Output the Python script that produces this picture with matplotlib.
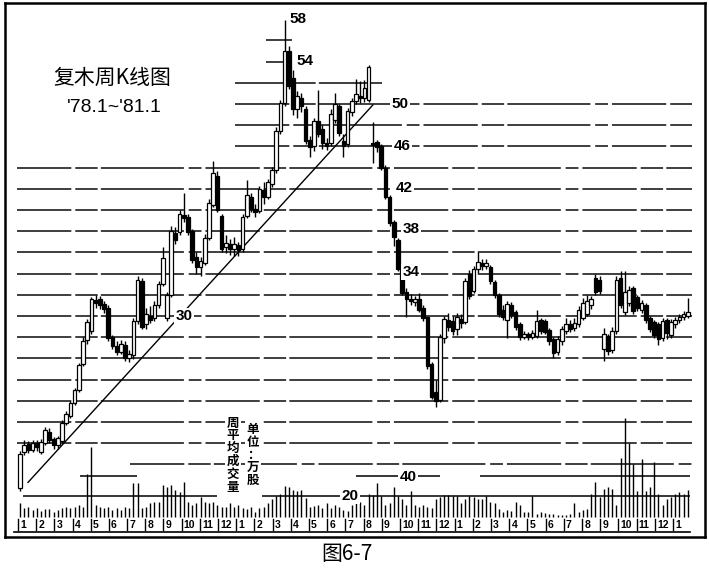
"""Weekly K-line chart of 复木 (1978.1 - 1981.1) with weekly volume strip."""

import matplotlib
matplotlib.use("Agg")
import matplotlib.pyplot as plt

CJK = ["Noto Sans CJK SC", "DejaVu Sans"]
LATIN = ["Liberation Sans", "DejaVu Sans"]

# ---- weekly prices, one value per week from 1978 week 1 ----
OPEN = [
    13.8, 17.2, 17.9, 17.4, 18.0, 17.2, 18.0, 19.1, 18.4, 17.8,
    18.2, 19.9, 20.6, 21.8, 23.0, 25.5, 27.7, 28.6, 31.5, 31.6,
    31.1, 30.8, 28.0, 27.2, 26.6, 27.3, 26.0, 26.3, 29.5, 33.3,
    29.2, 30.0, 29.8, 31.0, 33.0, 29.8, 32.0, 37.8, 37.9, 39.5,
    39.3, 38.0, 35.6, 34.6, 35.0, 37.4, 40.5, 43.2, 39.4, 36.5,
    36.8, 36.3, 36.7, 36.3, 39.4, 41.2, 40.1, 39.9, 41.9, 41.2,
    42.5, 43.8, 47.5, 50.1, 55.0, 52.5, 49.5, 50.6, 49.5, 46.6,
    46.0, 48.4, 47.6, 46.3, 46.3, 48.5, 49.8, 46.5, 46.2, 49.2,
    50.3, 50.8, 50.6, 50.4, 46.3, 46.4, 46.0, 44.0, 41.2, 38.9,
    37.2, 34.4, 32.3, 31.6, 31.3, 31.6, 30.8, 29.9, 25.5, 22.8,
    22.1, 27.9, 29.6, 29.5, 28.8, 29.7, 29.4, 34.0, 32.4, 34.4,
    35.0, 34.7, 34.6, 33.2, 32.0, 30.6, 29.6, 31.0, 30.4, 29.2,
    28.0, 28.3, 28.0, 28.1, 29.6, 29.5, 28.7, 27.8, 26.6, 27.6,
    28.6, 29.2, 28.9, 29.2, 29.8, 30.2, 31.0, 33.6, 33.4, 26.9,
    28.1, 26.8, 28.6, 33.6, 30.4, 31.2, 32.6, 31.8, 30.6, 31.0,
    29.8, 29.4, 29.2, 27.9, 29.6, 28.2, 29.2, 29.6, 29.9, 30.0,
]
HIGH = [
    17.3, 18.3, 18.2, 18.3, 18.3, 18.4, 19.5, 19.4, 18.6, 18.7,
    20.2, 21.0, 22.0, 23.2, 25.6, 28.0, 29.7, 31.8, 32.0, 31.9,
    31.4, 31.0, 28.2, 27.6, 27.7, 27.6, 26.8, 29.8, 33.8, 33.6,
    30.8, 30.9, 31.4, 33.3, 36.5, 32.3, 38.5, 38.4, 40.0, 41.6,
    39.6, 38.2, 36.0, 35.6, 37.7, 41.0, 44.6, 43.7, 39.6, 37.6,
    37.3, 37.5, 37.0, 39.6, 42.8, 41.6, 40.6, 42.3, 42.6, 42.9,
    44.1, 47.8, 50.4, 57.9, 55.5, 53.2, 51.2, 51.0, 49.8, 47.0,
    48.7, 51.3, 48.0, 46.8, 49.5, 51.0, 50.0, 47.2, 49.6, 50.6,
    52.4, 52.2, 52.3, 53.7, 48.3, 46.6, 46.2, 44.2, 41.4, 39.1,
    37.4, 34.6, 32.6, 32.1, 31.9, 32.2, 31.0, 30.0, 25.7, 24.0,
    28.3, 30.0, 30.3, 30.0, 30.3, 30.2, 33.6, 34.3, 34.7, 36.0,
    35.4, 35.4, 34.8, 33.4, 32.2, 31.0, 31.4, 31.3, 30.6, 29.4,
    28.6, 28.5, 28.7, 30.6, 29.8, 29.7, 28.9, 28.0, 28.1, 29.1,
    29.8, 29.6, 29.8, 30.9, 31.7, 32.0, 31.9, 34.0, 33.8, 28.9,
    28.3, 29.0, 33.8, 34.2, 34.2, 32.8, 32.8, 32.0, 31.5, 31.2,
    30.0, 29.6, 29.4, 29.8, 29.8, 29.7, 29.9, 30.2, 30.5, 31.7,
]
LOW = [
    13.5, 16.9, 17.1, 17.2, 17.3, 17.0, 17.8, 18.0, 17.5, 17.5,
    18.0, 19.7, 20.4, 21.6, 22.8, 25.3, 27.4, 28.3, 30.8, 30.7,
    30.3, 27.6, 26.9, 26.3, 26.4, 25.8, 25.7, 25.9, 29.2, 28.8,
    28.8, 29.3, 29.5, 30.8, 32.8, 29.5, 31.8, 36.8, 37.6, 38.9,
    37.6, 35.0, 34.0, 33.8, 34.8, 37.2, 40.3, 39.8, 36.0, 35.9,
    35.8, 35.7, 35.7, 36.0, 39.2, 39.8, 39.3, 39.7, 40.6, 41.0,
    42.2, 43.5, 47.2, 49.8, 51.4, 49.0, 48.7, 49.2, 46.2, 45.0,
    45.6, 46.9, 45.8, 45.7, 46.0, 48.2, 47.0, 45.0, 45.9, 48.9,
    50.0, 50.1, 50.2, 50.2, 44.4, 45.5, 43.8, 41.0, 38.5, 36.6,
    34.2, 32.0, 29.9, 31.0, 30.9, 30.4, 29.5, 25.0, 22.2, 21.4,
    21.9, 27.5, 28.6, 28.2, 28.2, 28.9, 29.2, 31.6, 32.2, 34.1,
    34.3, 34.4, 33.0, 31.7, 29.9, 29.6, 27.9, 29.8, 28.7, 27.7,
    27.8, 27.7, 27.8, 27.9, 28.3, 28.3, 27.3, 26.0, 26.3, 27.3,
    28.3, 28.5, 28.6, 29.0, 29.6, 30.0, 30.7, 32.0, 32.1, 25.8,
    26.3, 26.5, 28.3, 30.8, 30.1, 30.9, 30.2, 30.5, 30.3, 29.3,
    28.5, 27.9, 27.3, 27.6, 27.8, 27.9, 28.9, 29.3, 29.6, 29.8,
]
CLOSE = [
    17.0, 17.8, 17.4, 18.0, 17.6, 18.1, 19.2, 18.3, 17.8, 18.5,
    19.9, 20.8, 21.8, 23.0, 25.4, 27.6, 29.4, 31.6, 31.2, 31.0,
    30.7, 27.9, 27.2, 26.6, 27.4, 26.0, 26.4, 29.5, 33.4, 29.0,
    30.2, 29.6, 31.0, 33.0, 35.5, 32.0, 38.0, 37.2, 39.6, 39.2,
    37.9, 35.3, 34.6, 35.2, 37.4, 40.7, 43.5, 40.0, 36.3, 36.9,
    36.3, 36.8, 36.2, 39.3, 41.4, 40.1, 39.8, 42.0, 41.2, 42.6,
    43.8, 47.5, 50.1, 55.0, 51.7, 49.5, 50.8, 49.8, 46.5, 45.9,
    48.4, 47.2, 46.3, 46.0, 49.1, 50.0, 47.3, 46.0, 49.3, 50.3,
    50.9, 50.6, 51.5, 53.5, 46.1, 45.9, 44.0, 41.2, 38.8, 37.5,
    34.4, 32.2, 31.6, 31.4, 31.6, 30.6, 29.8, 25.3, 22.4, 22.0,
    28.0, 29.7, 29.0, 28.6, 29.9, 29.3, 33.3, 31.9, 34.4, 35.1,
    34.7, 35.0, 33.3, 32.0, 30.2, 29.9, 31.1, 30.1, 29.0, 28.0,
    28.3, 28.0, 28.4, 29.5, 28.6, 28.5, 27.6, 26.5, 27.8, 28.8,
    29.2, 28.8, 29.3, 30.6, 31.2, 31.4, 31.6, 32.3, 32.4, 28.3,
    26.7, 28.6, 33.4, 31.0, 32.3, 32.5, 30.5, 30.8, 31.2, 29.6,
    28.8, 28.2, 27.8, 29.5, 28.4, 29.4, 29.6, 29.9, 30.2, 30.4,
]
# weekly average volume, 万股
VOLUME = [
    14, 9, 10, 7, 9, 6, 8, 8, 5, 7,
    9, 10, 9, 10, 12, 10, 42, 68, 12, 10,
    9, 10, 7, 9, 7, 10, 9, 33, 33, 9,
    10, 14, 15, 15, 31, 29, 31, 26, 24, 34,
    15, 12, 14, 19, 15, 14, 15, 12, 10, 10,
    14, 10, 12, 9, 8, 10, 5, 9, 10, 14,
    17, 20, 22, 30, 29, 26, 25, 26, 18, 10,
    11, 12, 9, 14, 9, 12, 10, 7, 6, 12,
    14, 15, 12, 22, 21, 33, 20, 12, 14, 29,
    20, 17, 12, 25, 12, 10, 12, 10, 9, 17,
    19, 21, 21, 20, 20, 14, 17, 20, 19, 17,
    17, 20, 15, 14, 8, 5, 7, 6, 15, 12,
    5, 5, 20, 3, 5, 4, 3, 3, 2, 2,
    2, 3, 14, 5, 7, 8, 22, 34, 19, 27,
    29, 27, 12, 57, 96, 72, 51, 25, 56, 25,
    29, 53, 22, 12, 17, 19, 22, 24, 22, 26,
]
MONTH_LABELS = (
    ["1", "2", "3", "4", "5", "6", "7", "8", "9", "10", "11", "12"]
    + ["1", "2", "3", "4", "5", "6", "7", "8", "9", "10", "11", "12"]
    + ["1", "2", "3", "4", "5", "6", "7", "8", "9", "10", "11", "12"]
    + ["1"]
)
GRID_LEVELS = [18, 20, 22, 24, 26, 28, 30, 32, 34, 36, 38, 40, 42, 44,
               46, 48, 50]
VOLUME_LEVELS = [20, 40]
TREND_WEEKS = [1.9, 84.0]
TREND_PRICES = [14.3, 49.9]
PRICE_LABELS = ["58", "54", "50", "46", "42", "38", "34", "30"]
VOLUME_LABELS = ["20", "40"]

# ---- layout (pixels of the 709x568 picture) ----
W, H = 709, 568
L, R, T, B = 5, 705, 3, 537
X0, DX = 20, 4.2             # x pixel of week 0, pixels per week
Y50, DY = 104, 10.6          # y pixel of price 50, pixels per price unit
V0, DV = 517, 1.03           # y pixel of volume 0, pixels per volume unit
WEEKS_PER_MONTH = 52 / 12

PRICE_LABEL_PIX = [(298, 19), (305, 61), (400, 104), (402, 146),
                   (404, 188), (411, 229), (411, 272), (184, 316)]
VOLUME_LABEL_PIX = [(350, 496), (408, 477)]
GRID_DASH = (0, (34, 2.5, 14, 2, 52, 3, 8, 2.5))
LINE_COLOR = "#141414"


def fx(px):
    return px / W


def fy(py):
    return 1 - py / H


def yfrac(py):
    return (B - py) / (B - T)


def week(px):
    return (px - X0) / DX


def hseg(a, level, spans, **kw):
    """Draw one horizontal level as several pixel-x spans."""
    for x_start, x_end in spans:
        a.hlines(level, week(x_start), week(x_end), color=LINE_COLOR,
                 zorder=1, **kw)


fig = plt.figure(figsize=(W / 100, H / 100), dpi=100)
rect = [fx(L), fy(B), (R - L) / W, (B - T) / H]
ax = fig.add_axes(rect)
axv = fig.add_axes(rect, frameon=False)
axv.patch.set_alpha(0)

ax.set_xlim(week(L), week(R))
ax.set_ylim(50 - (B - Y50) / DY, 50 + (Y50 - T) / DY)
axv.set_xlim(week(L), week(R))
axv.set_ylim((V0 - B) / DV, (V0 - T) / DV)
for a in (ax, axv):
    a.set_xticks([])
    a.set_yticks([])
for s in ax.spines.values():
    s.set_linewidth(1.8)
    s.set_color("black")

weeks = list(range(len(CLOSE)))

# price grid, broken lines like the printed original
dash = dict(lw=1.15, linestyles=[GRID_DASH])
for lv in GRID_LEVELS:
    start = 235 if lv >= 46 else 17
    hseg(ax, lv, [(start, 692)], **dash)
hseg(ax, 52, [(235, 382)], **dash)
hseg(ax, 54, [(266, 292)], **dash)
hseg(ax, 56, [(266, 292)], **dash)
hseg(ax, 16, [(130, 692)], **dash)

# volume reference lines
hseg(axv, VOLUME_LEVELS[0], [(23, 217), (262, 690)], lw=1.2)
hseg(axv, VOLUME_LEVELS[1], [(80, 137), (356, 440), (480, 690)], lw=1.2)

# trend line
ax.plot(TREND_WEEKS, TREND_PRICES, color="black", lw=1.0, zorder=2)

# candles
ax.vlines(weeks, LOW, HIGH, color="black", lw=1.0, zorder=3)
for w, o, c in zip(weeks, OPEN, CLOSE):
    body = max(abs(c - o), 0.15)
    up = c >= o
    ax.bar(w, body, bottom=min(o, c), width=0.88,
           color="white" if up else "black", edgecolor="black",
           linewidth=0.9, zorder=4)

# volume bars
axv.vlines(weeks, 0, VOLUME, color="black", lw=1.0, zorder=3)

# month row
tr = ax.get_xaxis_transform()
for i, lab in enumerate(MONTH_LABELS):
    w0 = i * WEEKS_PER_MONTH - 0.5
    ax.plot([w0, w0], [yfrac(519), yfrac(530)], color="black", lw=1.0,
            transform=tr, clip_on=False)
    ax.text(w0 + 0.5, yfrac(525), lab, transform=tr, ha="left",
            va="center", fontsize=7.5, fontweight="bold", family=LATIN)
ax.plot([week(14), week(690)], [yfrac(532), yfrac(532)], color="black",
        lw=1.2, transform=tr)

# title block
fig.text(fx(112), fy(78), "复木周K线图", ha="center", va="center",
         fontsize=15, family=CJK)
fig.text(fx(114), fy(108), "'78.1~'81.1", ha="center", va="center",
         fontsize=14, family=LATIN)

# price and volume labels
box = dict(facecolor="white", edgecolor="none", pad=0.8)
for lab, (px, py) in zip(PRICE_LABELS, PRICE_LABEL_PIX):
    fig.text(fx(px), fy(py), lab, ha="center", va="center", fontsize=11,
             fontweight="bold", family=LATIN, bbox=box)
for lab, (px, py) in zip(VOLUME_LABELS, VOLUME_LABEL_PIX):
    fig.text(fx(px), fy(py), lab, ha="center", va="center", fontsize=11,
             fontweight="bold", family=LATIN, bbox=box)

# vertical notes on volume
note_box = dict(facecolor="white", edgecolor="none", pad=1.5)
fig.text(fx(233), fy(455), "\n".join("周平均成交量"), ha="center",
         va="center", fontsize=9, fontweight="bold", family=CJK,
         linespacing=0.98, bbox=note_box)
fig.text(fx(253), fy(455), "\n".join("单位：万股"), ha="center",
         va="center", fontsize=9, fontweight="bold", family=CJK,
         linespacing=0.98, bbox=note_box)

# caption
fig.text(fx(347), fy(554), "图6-7", ha="center", va="center",
         fontsize=15, family=CJK)

fig.savefig("out.png", dpi=100)
